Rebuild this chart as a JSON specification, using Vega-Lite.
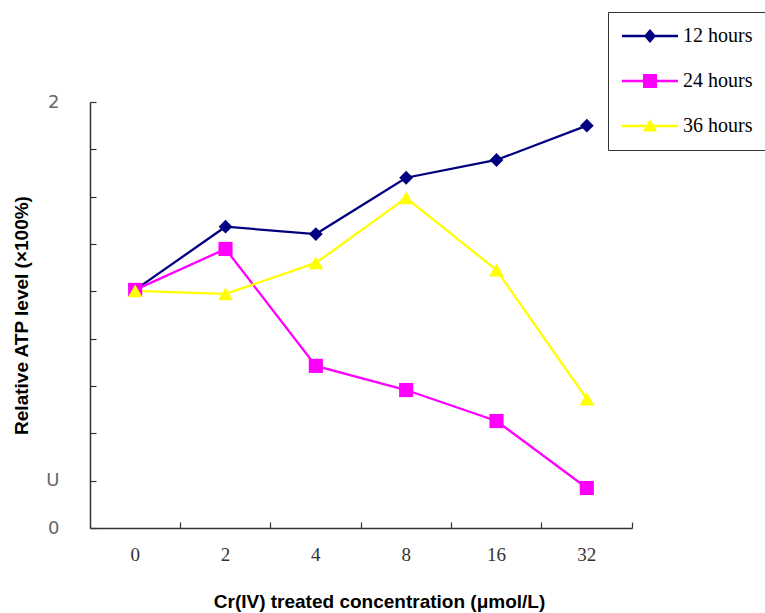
{
  "$schema": "https://vega.github.io/schema/vega-lite/v6.json",
  "width": 542,
  "height": 426,
  "autosize": {"type": "none"},
  "padding": {"left": 90, "top": 102, "right": 133, "bottom": 85},
  "background": "white",
  "config": {"view": {"stroke": null}},
  "data": {
    "values": [
      {"conc": "0", "series": "12 hours", "value": 1.206},
      {"conc": "2", "series": "12 hours", "value": 1.473},
      {"conc": "4", "series": "12 hours", "value": 1.442},
      {"conc": "8", "series": "12 hours", "value": 1.68},
      {"conc": "16", "series": "12 hours", "value": 1.755},
      {"conc": "32", "series": "12 hours", "value": 1.9},
      {"conc": "0", "series": "24 hours", "value": 1.206},
      {"conc": "2", "series": "24 hours", "value": 1.379},
      {"conc": "4", "series": "24 hours", "value": 0.885},
      {"conc": "8", "series": "24 hours", "value": 0.783},
      {"conc": "16", "series": "24 hours", "value": 0.652},
      {"conc": "32", "series": "24 hours", "value": 0.369},
      {"conc": "0", "series": "36 hours", "value": 1.202},
      {"conc": "2", "series": "36 hours", "value": 1.189},
      {"conc": "4", "series": "36 hours", "value": 1.32},
      {"conc": "8", "series": "36 hours", "value": 1.595},
      {"conc": "16", "series": "36 hours", "value": 1.29},
      {"conc": "32", "series": "36 hours", "value": 0.745}
    ]
  },
  "encoding": {
    "x": {
      "field": "conc",
      "type": "ordinal",
      "sort": ["0", "2", "4", "8", "16", "32"],
      "scale": {"type": "band", "paddingInner": 0, "paddingOuter": 0},
      "axis": {
        "title": "Cr(IV) treated concentration (μmol/L)",
        "titleFont": "Liberation Sans",
        "titleFontSize": 19,
        "titleFontWeight": "bold",
        "titleColor": "black",
        "titlePadding": 28,
        "titleX": 289,
        "labelAngle": 0,
        "labelFont": "Liberation Serif",
        "labelFontSize": 19,
        "labelColor": "#333",
        "labelPadding": 23,
        "bandPosition": 1,
        "tickSize": -6,
        "tickColor": "#333",
        "domainColor": "#333",
        "domainWidth": 1.5,
        "tickWidth": 1.2,
        "grid": false
      }
    },
    "y": {
      "field": "value",
      "type": "quantitative",
      "scale": {"domain": [0.2, 2.0], "nice": false, "zero": false},
      "axis": {
        "title": "Relative ATP level (×100%)",
        "titleFont": "Liberation Sans",
        "titleFontSize": 19,
        "titleFontWeight": "bold",
        "titleColor": "black",
        "titlePadding": 14,
        "values": [0.2, 0.4, 0.6, 0.8, 1.0, 1.2, 1.4, 1.6, 1.8, 2.0],
        "labelExpr": "abs(datum.value - 2) < 0.01 ? '2' : (abs(datum.value - 0.2) < 0.01 ? '0' : (abs(datum.value - 0.4) < 0.01 ? 'U' : ''))",
        "labelFont": "DejaVu Sans",
        "labelFontSize": 18,
        "labelColor": "#666",
        "labelPadding": 37,
        "tickSize": -6,
        "tickColor": "#333",
        "domainColor": "#333",
        "domainWidth": 1.5,
        "tickWidth": 1.2,
        "grid": false
      }
    },
    "color": {
      "field": "series",
      "type": "nominal",
      "scale": {"domain": ["12 hours", "24 hours", "36 hours"], "range": ["#000080", "#FF00FF", "#FFFF00"]},
      "legend": {
        "orient": "none",
        "legendX": 518,
        "legendY": -90,
        "title": null,
        "strokeColor": "#333",
        "fillColor": "white",
        "padding": 14,
        "labelFont": "Liberation Serif",
        "labelFontSize": 20,
        "labelColor": "black",
        "labelOffset": 41,
        "symbolSize": 400,
        "rowPadding": 25,
        "encode": {
          "symbols": {
            "update": {
              "shape": {"signal": "datum.value === '12 hours' ? 'M-1,-0.12H1.303L1.8,-0.7L2.297,-0.12H4.6V0.12H2.297L1.8,0.7L1.303,0.12H-1Z' : (datum.value === '24 hours' ? 'M-1,-0.12H1.1V-0.7H2.5V-0.12H4.6V0.12H2.5V0.7H1.1V0.12H-1Z' : 'M-1,-0.12H1.475L1.8,-0.7L2.125,-0.12H4.6V0.12H2.259L2.5,0.55H1.1L1.341,0.12H-1Z')"},
              "fill": {"signal": "scale('color', datum.value)"},
              "fillOpacity": {"value": 1},
              "opacity": {"value": 1},
              "strokeWidth": {"value": 0}
            }
          }
        }
      }
    }
  },
  "layer": [
    {"mark": {"type": "line", "strokeWidth": 2.3}},
    {
      "transform": [{"filter": "datum.series === '12 hours'"}],
      "mark": {"type": "point", "shape": "diamond", "filled": true, "opacity": 1, "size": 190}
    },
    {
      "transform": [{"filter": "datum.series === '24 hours'"}],
      "mark": {"type": "point", "shape": "square", "filled": true, "opacity": 1, "size": 200}
    },
    {
      "transform": [{"filter": "datum.series === '36 hours'"}],
      "mark": {"type": "point", "shape": "triangle-up", "filled": true, "opacity": 1, "size": 220}
    }
  ]
}
